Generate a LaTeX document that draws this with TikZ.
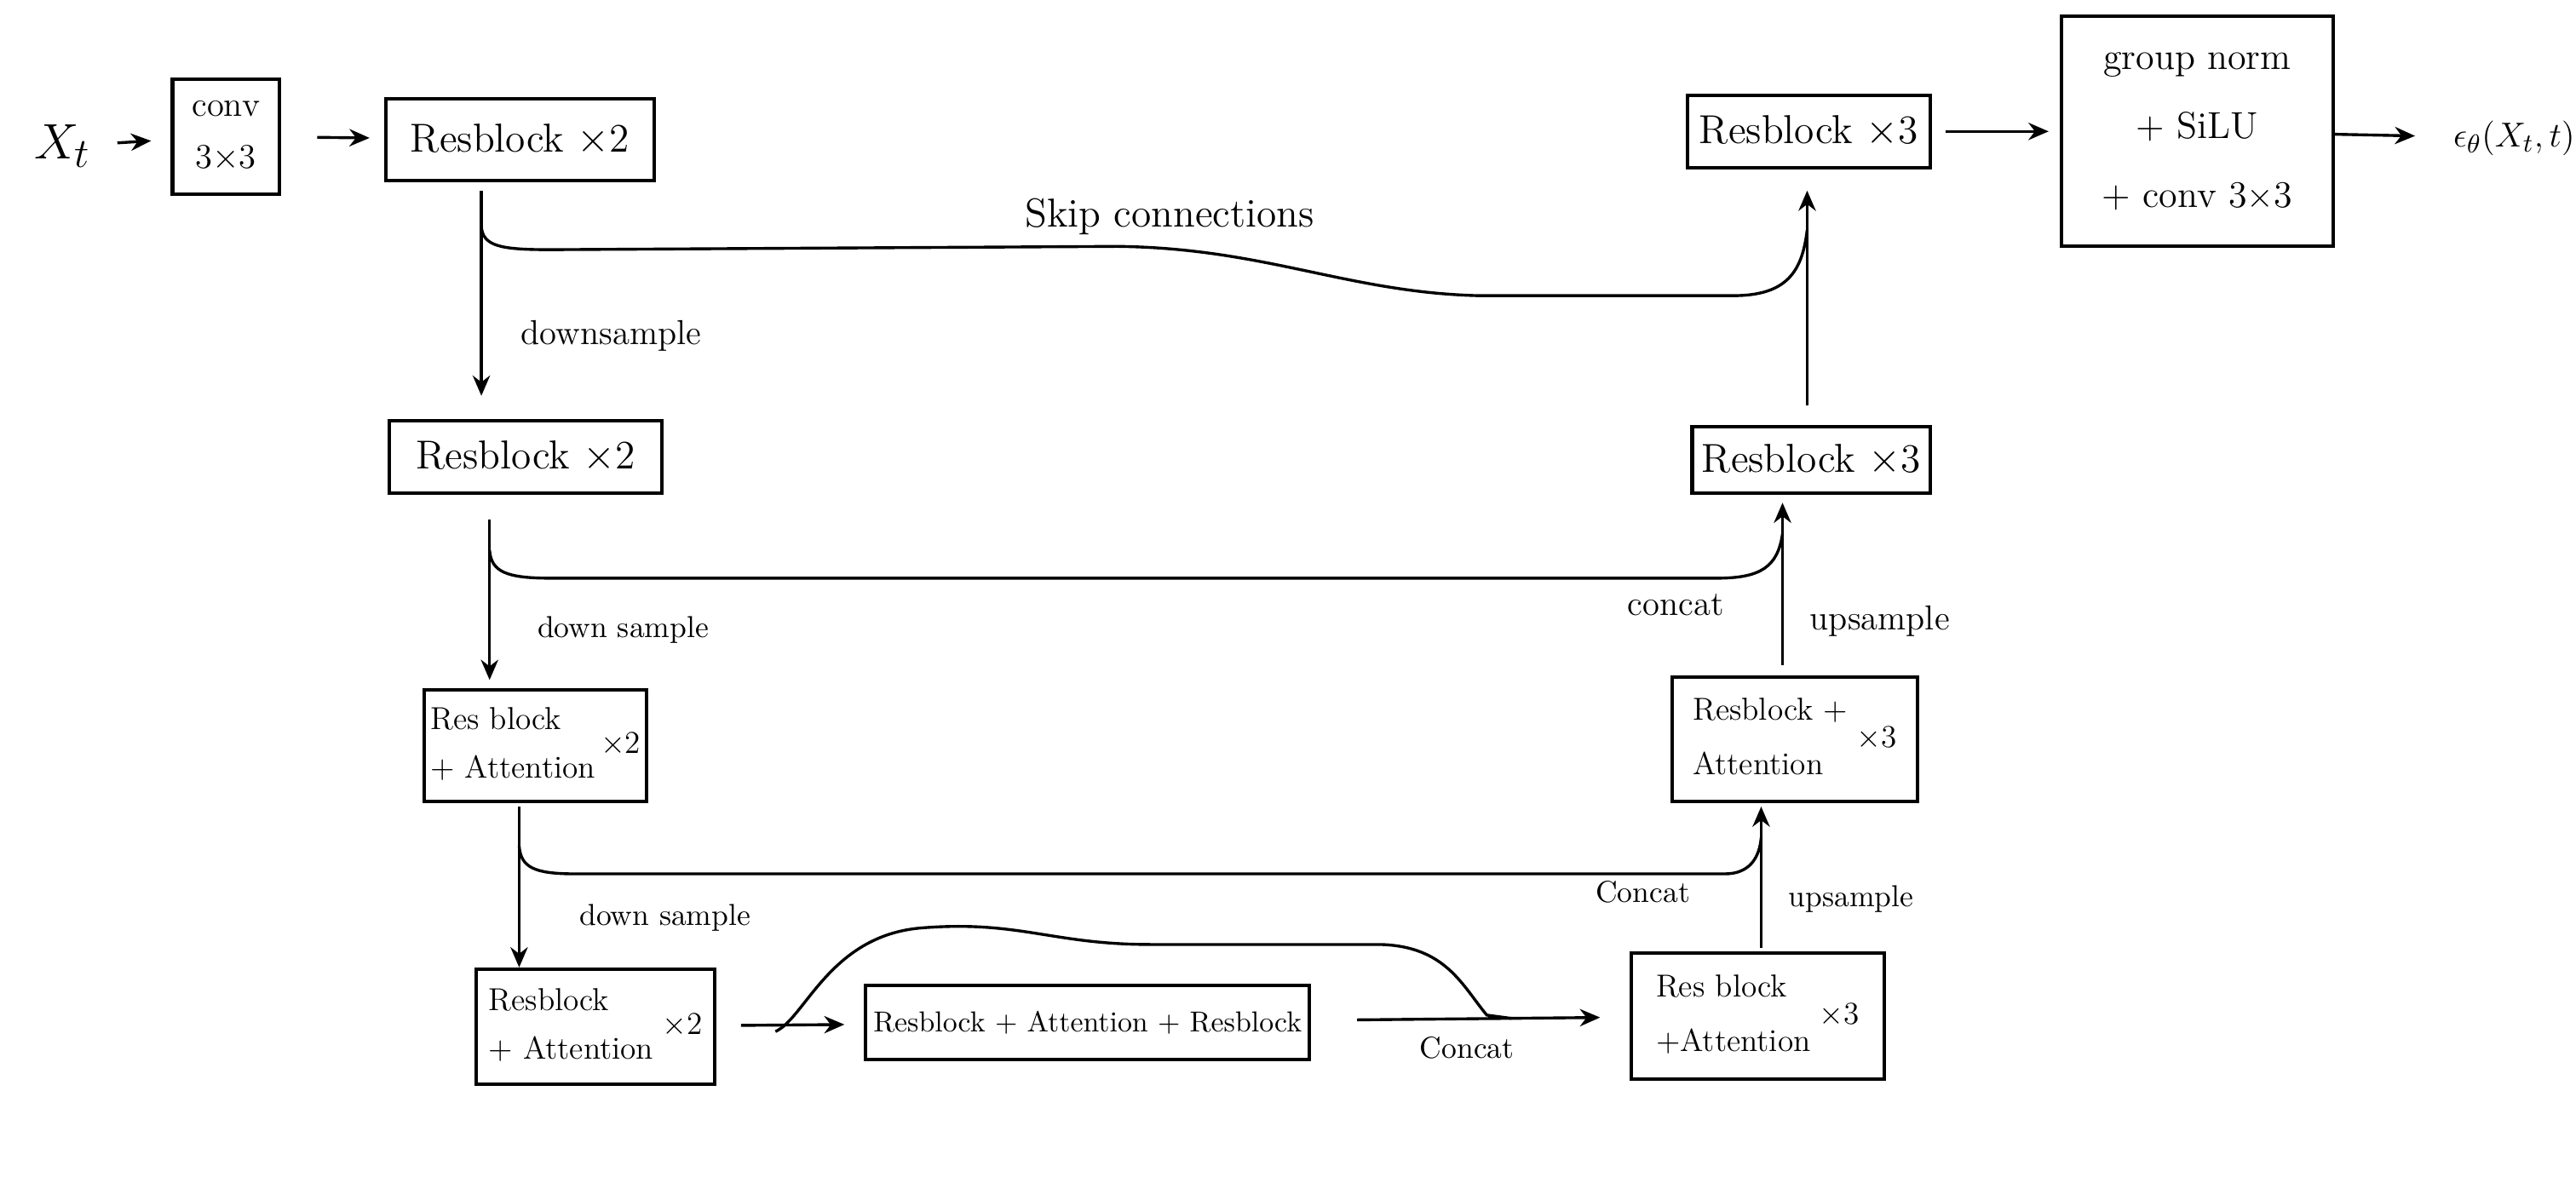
\documentclass[tikz,border=0pt]{standalone}
\usepackage{amsmath,amssymb}
\usepackage{tikz}
\usetikzlibrary{arrows.meta,positioning,calc}
\tikzset{
  un_blk/.style={rectangle,draw=black,line width=1.2pt,align=center,inner sep=2pt,
    font=\fontsize{14}{17}\selectfont},
  un_att/.style={un_blk,font=\fontsize{11}{14}\selectfont},
  arr/.style={-{Stealth[length=7pt,width=6pt]},line width=1pt},
  skip/.style={line width=1pt},
  lbl/.style={font=\fontsize{12}{14}\selectfont},
  lbl_s/.style={font=\fontsize{10.5}{12}\selectfont},
}

\begin{document}
\begin{tikzpicture}[x=0.02cm,y=-0.02cm]
  \useasboundingbox (0,0) rectangle (1568,720);
  % encoder
  \node (conv)[un_blk,minimum width=1.3cm,minimum height=1.4cm,font=\fontsize{12}{18}\selectfont]
    at (137.5,83) {conv\\ 3$\times$3};
  \node (xt)[left=0.85cm of conv,font=\fontsize{19}{22}\selectfont,yshift=-0.12cm] {$X_t$};
  \node (rb1)[un_blk,minimum width=3.26cm,minimum height=1.0cm] at (316.5,85) {Resblock $\times$2};
  \node (rb2)[un_blk,minimum width=3.32cm,minimum height=0.88cm] at (320,278) {Resblock $\times$2};
  \node (rba3)[un_att,minimum width=2.64cm,minimum height=1.36cm] at (326,454)
    {\begin{tabular}{@{}l@{}}Res block\\[3pt] + Attention\end{tabular}\,$\times$2};
  \node (rba4)[un_att,minimum width=2.9cm,minimum height=1.4cm] at (362.5,625)
    {\begin{tabular}{@{}l@{}}Resblock\\[3pt] + Attention\end{tabular}\;$\times$2};
  \node (mid)[un_blk,minimum width=5.4cm,minimum height=0.9cm,font=\fontsize{10}{12}\selectfont]
    at (662,622.5) {Resblock + Attention + Resblock};
  % decoder
  \node (up4)[un_att,minimum width=3.08cm,minimum height=1.54cm] at (1070,618.5)
    {\begin{tabular}{@{}l@{}}Res block\\[5pt] +Attention\end{tabular}\;$\times$3};
  \node (up3)[un_att,minimum width=2.98cm,minimum height=1.52cm] at (1092.5,450)
    {\begin{tabular}{@{}l@{}}Resblock +\\[5pt] Attention\end{tabular}\;$\times$3};
  \node (up2)[un_blk,minimum width=2.9cm,minimum height=0.8cm] at (1102.5,280) {Resblock $\times$3};
  \node (up1)[un_blk,minimum width=2.96cm,minimum height=0.88cm] at (1101,80) {Resblock $\times$3};
  \node (head)[un_blk,minimum width=3.3cm,minimum height=2.8cm,font=\fontsize{13}{20}\selectfont]
    at (1337.5,80) {group norm\\[4pt] + SiLU\\[4pt] + conv 3$\times$3};
  \node (eps)[anchor=west,inner sep=0pt,font=\fontsize{12.5}{15}\selectfont] at (1493,84)
    {$\epsilon_{\theta}(X_t,t)$};

  % horizontal arrows
  \draw[arr,shorten <=0.2cm,shorten >=0.24cm] (xt) -- (conv);
  \draw[arr,shorten <=0.44cm,shorten >=0.18cm] (conv) -- (rb1);
  \draw[arr,shorten <=0.16cm,shorten >=0.14cm] (up1) -- (head);
  \draw[arr,shorten >=0.46cm] (head) -- (eps);
  \draw[arr,shorten <=0.3cm,shorten >=0.24cm] (rba4) -- (mid);
  \draw[arr,shorten <=0.56cm,shorten >=0.36cm] (mid) -- (up4);

  % down path
  \coordinate (c1) at ([xshift=-0.47cm]rb1.south);
  \coordinate (c2) at ([xshift=-0.44cm]rb2.south);
  \coordinate (c3) at ([xshift=-0.2cm]rba3.south);
  \draw[arr,shorten <=0.1cm,shorten >=0.28cm] (c1) -- (c1 |- rb2.north)
    node[pos=0.65,right=0.35cm,lbl]{downsample};
  \draw[arr,shorten <=0.3cm,shorten >=0.1cm] (c2) -- (c2 |- rba3.north)
    node[pos=0.7,right=0.45cm,lbl_s]{down sample};
  \draw[arr,shorten <=0.04cm] (c3) -- (c3 |- rba4.north)
    node[pos=0.7,right=0.6cm,lbl_s]{down sample};

  % up path
  \coordinate (e4) at ([xshift=0.04cm]up4.north);
  \coordinate (e3) at ([xshift=-0.15cm]up3.north);
  \coordinate (e2) at ([xshift=-0.05cm]up2.north);
  \draw[arr,shorten <=0.04cm,shorten >=0.04cm] (e4) -- (e4 |- up3.south)
    node[pos=0.35,right=0.2cm,lbl_s]{upsample};
  \draw[arr,shorten <=0.12cm,shorten >=0.1cm] (e3) -- (e3 |- up2.south)
    node[pos=0.3,right=0.2cm,lbl]{upsample};
  \draw[arr,shorten <=0.24cm,shorten >=0.26cm] (e2) -- (e2 |- up1.south);

  % skip connections
  \coordinate (b1) at (293,138);  \coordinate (m1) at (1100,140);
  \coordinate (b2) at (298,335);  \coordinate (m2) at (1085,325);
  \coordinate (b3) at (316,515);  \coordinate (m3) at (1072,510);
  \coordinate (b4) at (472,628);  \coordinate (m4) at (920,620);
  \draw[skip] (b1) .. controls (294,150) and (305,152) .. (335,152) -- (680,150)
    .. controls (770,151) and (820,178) .. (900,180) -- (1055,180)
    .. controls (1088,180) and (1097,165) .. (m1);
  \draw[skip] (b2) .. controls (299,348) and (308,352) .. (335,352) -- (1045,352)
    .. controls (1072,352) and (1082,345) .. (m2);
  \draw[skip] (b3) .. controls (317,528) and (325,532) .. (350,532) -- (1050,532)
    .. controls (1065,532) and (1071,522) .. (m3);
  \draw[skip] (b4) .. controls (490,620) and (505,570) .. (560,565)
    .. controls (620,560) and (640,575) .. (700,575) -- (840,575)
    .. controls (880,576) and (890,600) .. (905,618) -- (m4);
  \node[lbl,font=\fontsize{14}{16}\selectfont] (sk) at (712,132) {Skip connections};
  \node[lbl] (cc2) at (1020,368) {concat};
  \node[lbl_s] (cc3) at (1000,543) {Concat};
  \node[lbl_s] (cc4) at (893,638) {Concat};
\end{tikzpicture}
\end{document}
